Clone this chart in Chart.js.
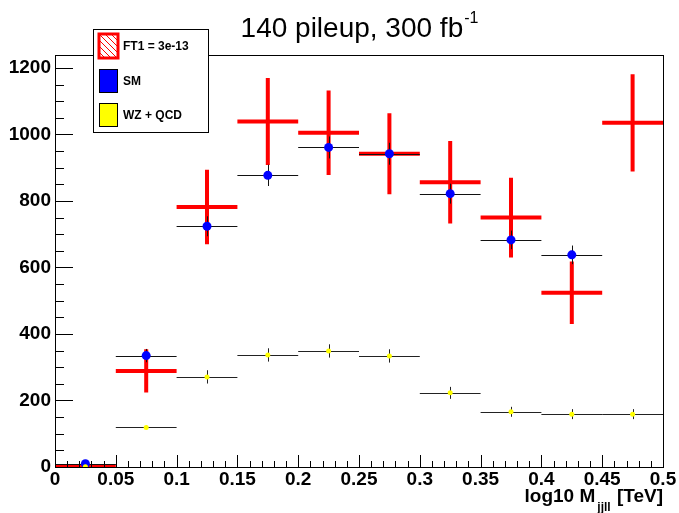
<!DOCTYPE html>
<html><head><meta charset="utf-8">
<script src="https://cdn.jsdelivr.net/npm/chart.js@4/dist/chart.umd.min.js"></script>
<style>html,body{margin:0;padding:0;background:#fff;overflow:hidden}#wrap{position:relative;width:679px;height:513px}</style>
</head><body><div id="wrap"><canvas id="c" width="679" height="513"></canvas></div>
<script>
// ---- data ----
const binCenters = [0.025,0.075,0.125,0.175,0.225,0.275,0.325,0.375,0.425,0.475];
const binHalfWidth = 0.025;
const ft1Values = [3,289,782,1039,1005,942,856,750,524,1035];
const ft1Errors = [0,65,112,131,127,122,124,120,94,146];
const smValues  = [10,335,724,877,961,942,822,683,638,null];
const smErrors  = [3,20,30,32,33,33,30,28,28,null];
const wzValues  = [1,119,271,337,349,334,223,166,159,159];
const wzErrors  = [1,5,20,20,20,20,18,15,15,15];
const xTickValues = [0,0.05,0.1,0.15,0.2,0.25,0.3,0.35,0.4,0.45,0.5];
const xTickLabels = ['0','0.05','0.1','0.15','0.2','0.25','0.3','0.35','0.4','0.45','0.5'];
const yTickValues = [0,200,400,600,800,1000,1200];
const yTickLabels = ['0','200','400','600','800','1000','1200'];
const legendLabels = ['FT1 = 3e-13','SM','WZ + QCD'];
const titleMain = '140 pileup, 300 fb';
const titleSup = '-1';
const xTitleParts = ['log10 M','jjll',' [TeV]'];

const FONT = "'Liberation Sans', Arial, Helvetica, sans-serif";

function pts(vals){ return binCenters.map((c,i)=>({x:c, y:vals[i]})); }

const errBars = {
  id:'errBars',
  beforeDatasetDraw(chart,args){
    const ds = chart.data.datasets[args.index];
    if(!ds.errY) return;
    const {ctx, chartArea:a, scales:{x,y}} = chart;
    ctx.save();
    ctx.beginPath(); ctx.rect(a.left,a.top,a.right-a.left,a.bottom-a.top+2); ctx.clip();
    ctx.strokeStyle = ds.barColor; ctx.lineWidth = ds.barWidth; ctx.lineCap='butt';
    const thin = ds.barWidth<=1;
    ds.data.forEach((p,i)=>{
      if(p.y==null) return;
      const e = ds.errY[i];
      const xl = x.getPixelForValue(p.x-ds.halfWidth), xr = x.getPixelForValue(p.x+ds.halfWidth);
      let xc = x.getPixelForValue(p.x), yc = y.getPixelForValue(p.y);
      if(thin){ yc = Math.round(yc)+0.5; xc = Math.round(xc)+0.5; }
      ctx.beginPath(); ctx.moveTo(xl,yc); ctx.lineTo(xr,yc);
      if(e>0){ ctx.moveTo(xc,y.getPixelForValue(p.y+e)); ctx.lineTo(xc,y.getPixelForValue(p.y-e)); }
      ctx.stroke();
    });
    ctx.restore();
  }
};

const decor = {
  id:'decor',
  afterDraw(chart){
    const {ctx, chartArea:a, scales:{x,y}} = chart;
    ctx.save();
    // frame
    ctx.strokeStyle='#000'; ctx.lineWidth=1;
    ctx.strokeRect(Math.round(a.left)+0.5, Math.round(a.top)+0.5, Math.round(a.right-a.left), Math.round(a.bottom-a.top));
    // ticks
    ctx.beginPath();
    for(let v=0; v<=0.5001; v+=0.01){
      const px = Math.round(x.getPixelForValue(v))+0.5;
      const major = Math.abs(v/0.05 - Math.round(v/0.05))<1e-6;
      ctx.moveTo(px,a.bottom); ctx.lineTo(px,a.bottom-(major?12:6));
    }
    for(let v=0; v<=y.max; v+=50){
      const py = Math.round(y.getPixelForValue(v))+0.5;
      const major = v%200===0;
      ctx.moveTo(a.left,py); ctx.lineTo(a.left+(major?18:9),py);
    }
    ctx.stroke();
    // title
    ctx.fillStyle='#000';
    ctx.textBaseline='alphabetic';
    ctx.font = '28px '+FONT;
    const w1 = ctx.measureText(titleMain).width;
    ctx.font = '16px '+FONT;
    const w2 = ctx.measureText(titleSup).width;
    const tx = (a.left+a.right)/2 - (w1+w2)/2;
    ctx.font = '28px '+FONT; ctx.textAlign='left';
    ctx.fillText(titleMain, tx, 37);
    ctx.font = '16px '+FONT;
    ctx.fillText(titleSup, tx+w1+1, 23);
    // x axis title
    ctx.font = 'bold 19px '+FONT;
    const wa = ctx.measureText(xTitleParts[0]).width;
    const wc = ctx.measureText(xTitleParts[2]).width;
    ctx.font = 'bold 12px '+FONT;
    const wb = ctx.measureText(xTitleParts[1]).width;
    let sx = a.right - wc - wb - wa - 3;
    ctx.font = 'bold 19px '+FONT;
    ctx.fillText(xTitleParts[0], sx, 502);
    ctx.font = 'bold 12px '+FONT;
    ctx.fillText(xTitleParts[1], sx+wa+2, 511);
    ctx.font = 'bold 19px '+FONT;
    ctx.fillText(xTitleParts[2], sx+wa+wb+3, 502);
    // legend
    const L = {x:93.5, y:29.5, w:115, h:103};
    ctx.fillStyle='#fff'; ctx.fillRect(L.x,L.y,L.w,L.h);
    ctx.strokeStyle='#000'; ctx.lineWidth=1; ctx.strokeRect(L.x,L.y,L.w,L.h);
    const rows = [46,81,115];
    ctx.font = 'bold 12px '+FONT; ctx.textBaseline='middle';
    rows.forEach((cy,i)=>{
      const sx0=99, sw=19, sh=24, sy0=cy-12;
      if(i===0){
        ctx.save();
        ctx.beginPath(); ctx.rect(sx0,sy0,sw,sh); ctx.clip();
        ctx.strokeStyle='#f00'; ctx.lineWidth=1;
        ctx.beginPath();
        for(let k=-30;k<30;k+=6){ ctx.moveTo(sx0+k, sy0); ctx.lineTo(sx0+k+sh, sy0+sh); }
        ctx.stroke();
        ctx.restore();
        ctx.strokeStyle='#f00'; ctx.lineWidth=3;
        ctx.strokeRect(sx0,sy0,sw,sh);
      } else {
        ctx.fillStyle = i===1 ? '#0000ff' : '#ffff00';
        ctx.fillRect(sx0,sy0,sw,sh);
        ctx.strokeStyle='#000'; ctx.lineWidth=1;
        ctx.strokeRect(sx0+0.5,sy0+0.5,sw-1,sh-1);
      }
      ctx.fillStyle='#000';
      ctx.fillText(legendLabels[i], 123, cy+1);
    });
    ctx.restore();
  }
};

new Chart(document.getElementById('c'), {
  type:'scatter',
  data:{ datasets:[
    { label:'WZ + QCD', data:pts(wzValues), errY:wzErrors, halfWidth:binHalfWidth, barColor:'#222', barWidth:1,
      pointRadius:2.5, pointBackgroundColor:'#ffff00', pointBorderWidth:0, showLine:false },
    { label:'SM', data:pts(smValues), errY:smErrors, halfWidth:binHalfWidth, barColor:'#111', barWidth:1,
      pointRadius:4.5, pointBackgroundColor:'#0000ff', pointBorderWidth:0, showLine:false },
    { label:'FT1 = 3e-13', data:pts(ft1Values), errY:ft1Errors, halfWidth:binHalfWidth, barColor:'#ff0000', barWidth:4,
      pointRadius:0, showLine:false }
  ]},
  options:{
    responsive:false, animation:false, devicePixelRatio:1,
    layout:{ padding:{ left:0, right:16, top:55, bottom:0 } },
    plugins:{ legend:{display:false}, title:{display:false}, tooltip:{enabled:false} },
    scales:{
      x:{ type:'linear', min:0, max:0.5,
        grid:{display:false, drawTicks:false}, border:{display:false},
        afterBuildTicks:s=>{ s.ticks = xTickValues.map(v=>({value:v})); },
        afterFit:s=>{ s.height=46; s.paddingLeft=0; s.paddingRight=0; },
        ticks:{ autoSkip:false, maxRotation:0, padding:1, color:'#000', font:{family:FONT, size:19, weight:'bold'},
          callback:(v)=>xTickLabels[xTickValues.findIndex(t=>Math.abs(t-v)<1e-9)] } },
      y:{ type:'linear', min:0, max:1239,
        grid:{display:false, drawTicks:false}, border:{display:false},
        afterBuildTicks:s=>{ s.ticks = yTickValues.map(v=>({value:v})); },
        afterFit:s=>{ s.width=55; s.paddingTop=0; s.paddingBottom=0; },
        ticks:{ padding:4, color:'#000', font:{family:FONT, size:19, weight:'bold'},
          callback:(v)=>yTickLabels[yTickValues.indexOf(v)] } }
    }
  },
  plugins:[errBars, decor]
});
</script></body></html>
